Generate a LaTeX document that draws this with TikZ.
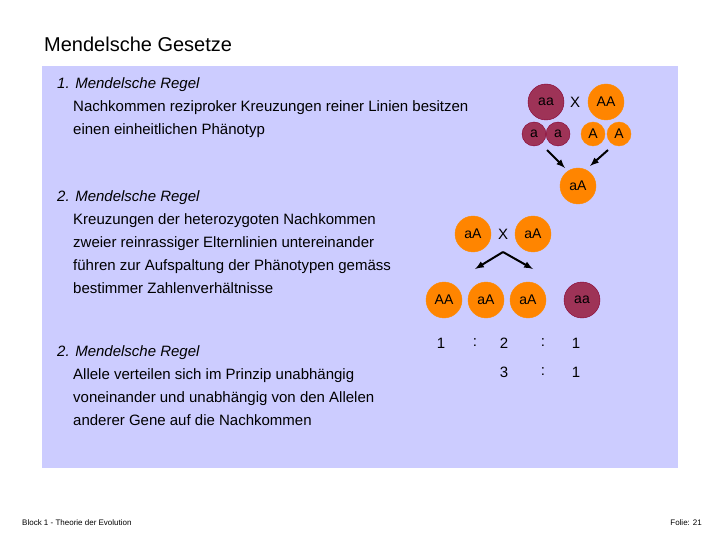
\documentclass[tikz,border=0pt]{standalone}
\usepackage{fontspec}
\setmainfont{Liberation Sans}
\begin{document}
\begin{tikzpicture}[x=1pt,y=-1pt,
  org/.style={circle,fill=orange!90!yellow!95!red,draw=orange!90!yellow,inner sep=0pt,minimum size=#1,font=\fontsize{14}{14}\selectfont},
  pur/.style={circle,fill=purple!70!black!80,draw=purple!70!black,inner sep=0pt,minimum size=#1,font=\fontsize{14}{14}\selectfont},
  txt/.style={anchor=west,font=\fontsize{15}{23}\selectfont,align=left,inner sep=0pt},
  num/.style={font=\fontsize{15}{15}\selectfont},
  arr/.style={-latex,line width=2pt}]
\definecolor{panel}{HTML}{CCCCFF}
\colorlet{orange}{orange}
\useasboundingbox (0,0) rectangle (720,540);
\fill[white] (0,0) rectangle (720,540);
\fill[panel] (42,66) rectangle (678,468);
\node[anchor=west,inner sep=0pt,font=\fontsize{20}{20}\selectfont] (title) at (44,44) {Mendelsche Gesetze};
\node[txt,anchor=north west] (t1) at (57,77) {\textit{1. Mendelsche Regel}\\\hspace*{16pt}Nachkommen reziproker Kreuzungen reiner Linien besitzen\\\hspace*{16pt}einen einheitlichen Phänotyp};
\node[txt,anchor=north west] (t2) at (57,190) {\textit{2. Mendelsche Regel}\\\hspace*{16pt}Kreuzungen der heterozygoten Nachkommen\\\hspace*{16pt}zweier reinrassiger Elternlinien untereinander\\\hspace*{16pt}führen zur Aufspaltung der Phänotypen gemäss\\\hspace*{16pt}bestimmer Zahlenverhältnisse};
\node[txt,anchor=north west] (t3) at (57,345) {\textit{2. Mendelsche Regel}\\\hspace*{16pt}Allele verteilen sich im Prinzip unabhängig\\\hspace*{16pt}voneinander und unabhängig von den Allelen\\\hspace*{16pt}anderer Gene auf die Nachkommen};
% first cross
\node[pur=36pt] (p1) at (546,102) {aa};
\node[num] (x1) at (575,102) {X};
\node[org=36pt] (p2) at (606,102) {AA};
\node[pur=24pt] (g1) at (534,134) {a};
\node[pur=24pt] (g2) at (558,134) {a};
\node[org=24pt] (g3) at (593,134) {A};
\node[org=24pt] (g4) at (619,134) {A};
\node[org=36pt] (f1) at (578,186) {aA};
\coordinate (a1s) at (547,150); \coordinate (a1e) at (565,168);
\coordinate (a2s) at (608,150); \coordinate (a2e) at (590,166);
\draw[arr] (a1s) -- (a1e);
\draw[arr] (a2s) -- (a2e);
% second cross
\node[org=36pt] (h1) at (473,234) {aA};
\node[num] (x2) at (503,234) {X};
\node[org=36pt] (h2) at (533,234) {aA};
\coordinate (apex) at (503,252);
\coordinate (l) at (475,269); \coordinate (r) at (533,269);
\draw[arr] (apex) -- (l);
\draw[arr] (apex) -- (r);
\node[org=36pt] (k1) at (444,300) {AA};
\node[org=36pt] (k2) at (486,300) {aA};
\node[org=36pt] (k3) at (528,300) {aA};
\node[pur=36pt] (k4) at (582,300) {aa};
\node[num] (n1) at (441,343) {1};
\node[num] (c1) at (475,343) {:};
\node[num] (n2) at (504,343) {2};
\node[num] (c2) at (543,343) {:};
\node[num] (n3) at (576,343) {1};
\node[num] (m1) at (504,372) {3};
\node[num] (c3) at (543,372) {:};
\node[num] (m2) at (576,372) {1};
\node[anchor=west,inner sep=0pt,font=\fontsize{8}{8}\selectfont] (foot) at (22,523) {Block 1 - Theorie der Evolution};
\node[anchor=east,inner sep=0pt,font=\fontsize{8}{8}\selectfont\rmfamily] (page) at (702,523) {Folie: 21};
\end{tikzpicture}
\end{document}
